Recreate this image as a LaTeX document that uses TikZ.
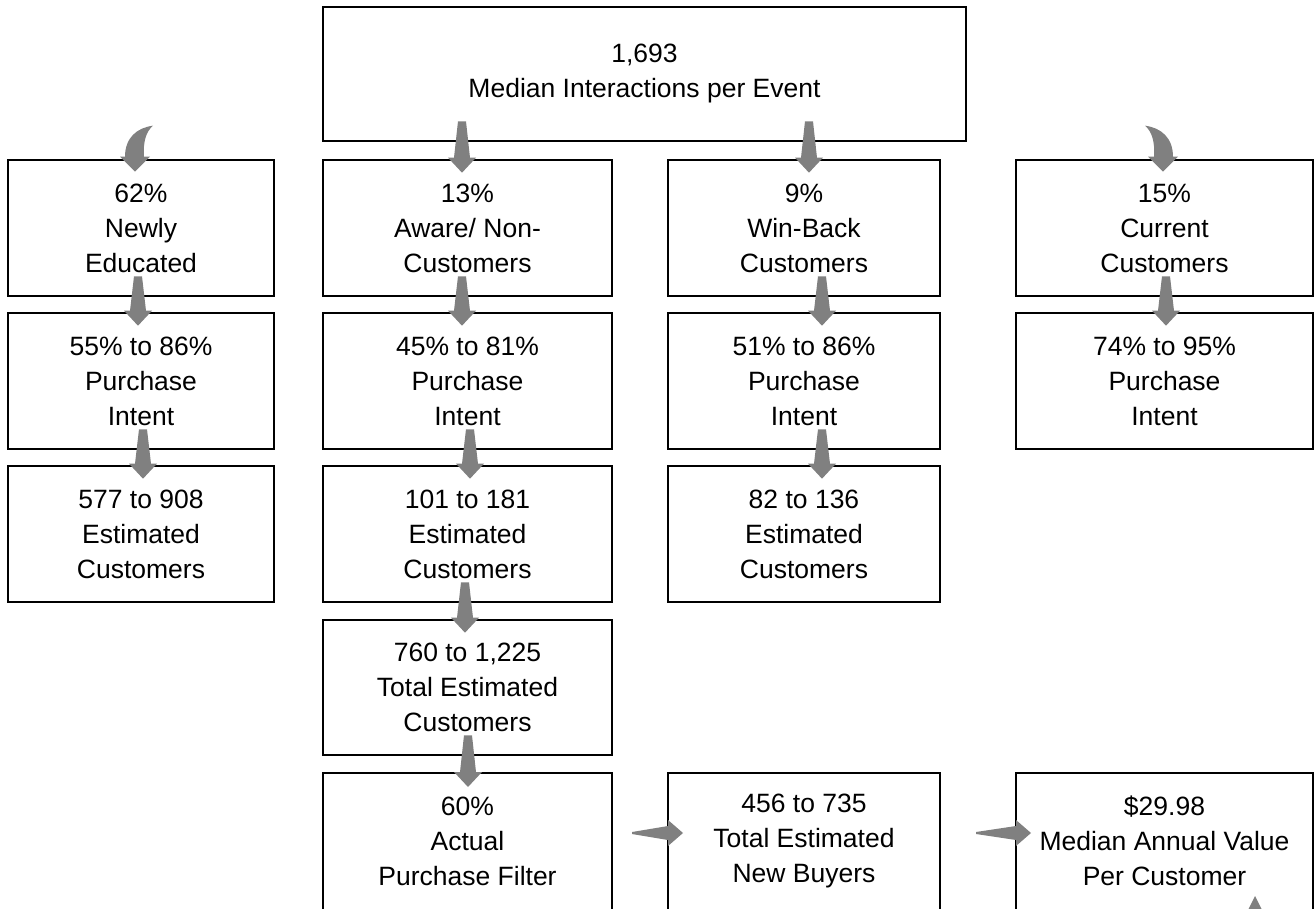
\documentclass[tikz,border=0pt]{standalone}
\usepackage{fontspec}
\setmainfont{Liberation Sans}
\usetikzlibrary{calc}
\definecolor{arrgray}{RGB}{128,128,128}
\tikzset{
  box/.style={draw=black, line width=2.6pt, align=center, inner sep=0pt,
    font=\fontsize{26.5}{35}\selectfont},
  openbox/.style={box, draw=none, outer sep=0pt},
  arrfill/.style={fill=arrgray, draw=none}
}
% vertical block arrow from node #1 to node #2 at x=#3
\newcommand{\varr}[3]{%
  \path let \p1=(#1.south), \p2=(#2.north) in
    [arrfill] (#3-4,\y1+21) -- (#3+4,\y1+21) -- (#3+8,\y2+1) -- (#3+14,\y2+1)
    -- (#3,\y2-14) -- (#3-14,\y2+1) -- (#3-8,\y2+1) -- cycle;}
% horizontal block arrow from node #1 to node #2 at y=#3, start gap #4
\newcommand{\harr}[4]{%
  \path let \p1=(#1.east), \p2=(#2.west) in
    [arrfill] (\x1+#4,#3+1) -- (\x2,#3+7) -- (\x2,#3+13) -- (\x2+15,#3)
    -- (\x2,#3-13) -- (\x2,#3-7) -- (\x1+#4,#3-1) -- cycle;}
% curved block arrow into node #1, tip at x=#2, mirrored by #3
\newcommand{\carr}[3]{%
  \path let \p1=(#1.north) in coordinate (ctip) at (#2,\y1-13);
  \fill[arrgray, shift={(ctip)}, xscale=#3]
    (18,46) .. controls (2,44) and (-10,34) .. (-10,15) -- (-15,15) -- (0,0)
    -- (15,15) -- (9,15) .. controls (8,30) and (11,40) .. (18,46) -- cycle;}
\begin{document}
\begin{tikzpicture}[x=1pt,y=1pt]
\useasboundingbox (0,0) rectangle (1315,-909);
\clip (0,0) rectangle (1315,-909);

\node[box, minimum width=643pt, minimum height=134pt] (top) at (644.5,-74) {1,693\\Median Interactions per Event};

% row 1
\node[box, minimum width=266pt, minimum height=136pt] (a1) at (141,-228) {62\%\\Newly\\Educated};
\node[box, minimum width=289pt, minimum height=136pt] (b1) at (467.5,-228) {13\%\\Aware/ Non-\\Customers};
\node[box, minimum width=272pt, minimum height=136pt] (c1) at (804,-228) {9\%\\Win-Back\\Customers};
\node[box, minimum width=297pt, minimum height=136pt] (d1) at (1164.5,-228) {15\%\\Current\\Customers};

% row 2
\node[box, minimum width=266pt, minimum height=136pt] (a2) at (141,-381) {55\% to 86\%\\Purchase\\Intent};
\node[box, minimum width=289pt, minimum height=136pt] (b2) at (467.5,-381) {45\% to 81\%\\Purchase\\Intent};
\node[box, minimum width=272pt, minimum height=136pt] (c2) at (804,-381) {51\% to 86\%\\Purchase\\Intent};
\node[box, minimum width=297pt, minimum height=136pt] (d2) at (1164.5,-381) {74\% to 95\%\\Purchase\\Intent};

% row 3
\node[box, minimum width=266pt, minimum height=136pt] (a3) at (141,-534) {577 to 908\\Estimated\\Customers};
\node[box, minimum width=289pt, minimum height=136pt] (b3) at (467.5,-534) {101 to 181\\Estimated\\Customers};
\node[box, minimum width=272pt, minimum height=136pt] (c3) at (804,-534) {82 to 136\\Estimated\\Customers};

% row 4
\node[box, minimum width=289pt, minimum height=135pt] (b4) at (467.5,-687.5) {760 to 1,225\\Total Estimated\\Customers};

% row 5 (boxes run off the bottom edge)
\node[openbox, minimum width=289pt, minimum height=136pt] (b5) at (467.5,-841) {60\%\\Actual\\Purchase Filter};
\node[openbox, minimum width=272pt, minimum height=136pt] (c5) at (804,-841) {456 to 735\\Total Estimated\\New Buyers};
\node[openbox, minimum width=297pt, minimum height=136pt] (d5) at (1164.5,-841) {\$29.98\\Median Annual Value\\Per Customer};
\foreach \n in {b5,c5,d5}{
  \draw[line width=2.6pt] ([yshift=-30pt]\n.south west) -- (\n.north west) -- (\n.north east) -- ([yshift=-30pt]\n.south east);
}

% straight arrows
\varr{top}{b1}{462}
\varr{top}{c1}{809}
\varr{a1}{a2}{138}
\varr{a2}{a3}{143}
\varr{b1}{b2}{462}
\varr{b2}{b3}{470}
\varr{b3}{b4}{465}
\varr{b4}{b5}{468}
\varr{c1}{c2}{822}
\varr{c2}{c3}{822}
\varr{d1}{d2}{1166}

% curved arrows
\carr{a1}{135}{1}
\carr{d1}{1163}{-1}

% horizontal arrows
\harr{b5}{c5}{-833}{20}
\harr{c5}{d5}{-833}{36}

% arrow entering from below
\fill[arrgray] (1247,-912) -- (1255,-896) -- (1263,-912) -- cycle;
\end{tikzpicture}
\end{document}
